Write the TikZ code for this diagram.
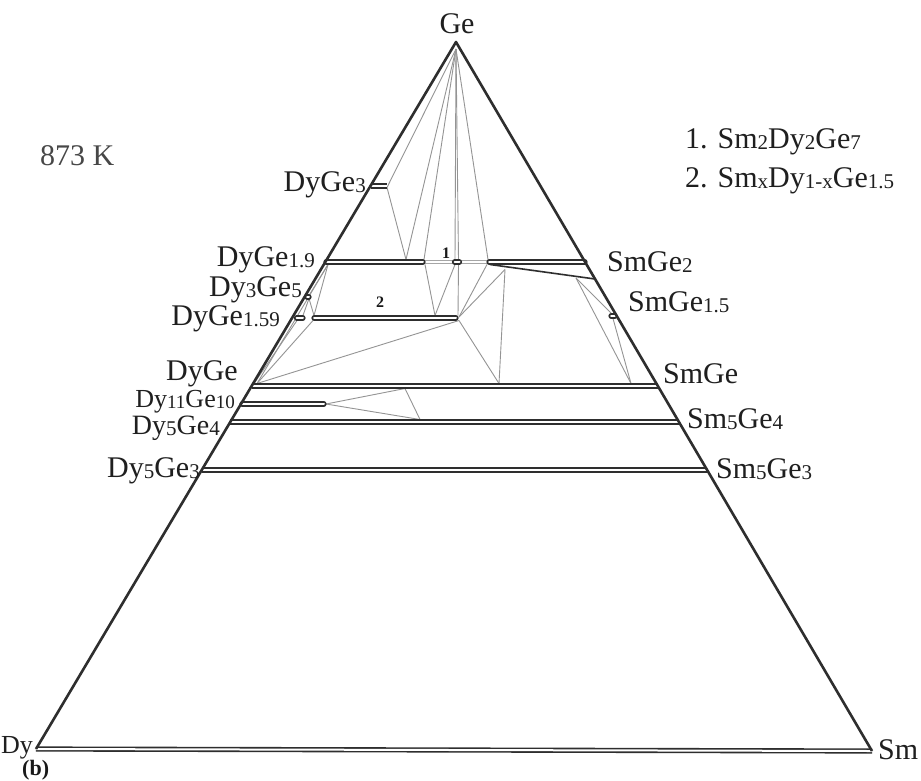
\documentclass[tikz,border=0pt]{standalone}
\usepackage{fontspec}
\setmainfont{Liberation Serif}
\newcommand\sbs[1]{\raisebox{-1pt}{\fontsize{21}{21}\selectfont #1}}
\newcommand\sbss[1]{\raisebox{-1pt}{\fontsize{19}{19}\selectfont #1}}
\begin{document}
\begin{tikzpicture}[x=1pt,y=-1pt,
  edge/.style={draw=black!82,line width=2.6pt,line join=round},
  phase/.style={draw=black!82,line width=1.6pt,double=white,double distance=2pt},
  phaser/.style={phase,line cap=round},
  thinphase/.style={draw=black!35,line width=0.8pt,double=white,double distance=2.6pt},
  slant/.style={draw=black!82,line width=1.6pt},
  tie/.style={draw=black!42,line width=0.9pt},
  lbl/.style={font=\fontsize{30}{30}\selectfont,text=black!88,inner sep=0pt},
  slbl/.style={lbl,font=\fontsize{28}{28}\selectfont},
  xslbl/.style={lbl,font=\fontsize{26}{26}\selectfont},
  num/.style={font=\fontsize{16}{16}\selectfont\bfseries,text=black!90,inner sep=0pt}]
\useasboundingbox (0,0) rectangle (921,780);
\fill[white] (0,0) rectangle (921,780);
% corners
\coordinate (Ge) at (456,42);
\coordinate (Dy) at (36,749);
\coordinate (Sm) at (872,751);
\coordinate (G0) at (456,49);
% phase points
\coordinate (d3a) at (371,186);   \coordinate (d3b) at (387,186);
\coordinate (d19a) at (326,262); \coordinate (d19b) at (423,262);
\coordinate (c1a) at (454.5,262); \coordinate (c1b) at (459.5,262);
\coordinate (s2a) at (489,262);   \coordinate (s2b) at (585,262);
\coordinate (sla) at (490,264.5); \coordinate (slb) at (595,279);
\coordinate (d35a) at (307,297);  \coordinate (d35b) at (309,297);
\coordinate (d159a) at (296.5,318); \coordinate (d159b) at (303,318);
\coordinate (c2a) at (314,318);   \coordinate (c2b) at (456,318);
\coordinate (s15a) at (611,316);  \coordinate (s15b) at (615,316);
\coordinate (d1a) at (251.7,386); \coordinate (d1b) at (657.8,386);
\coordinate (d1110a) at (242,404); \coordinate (d1110b) at (324,404);
\coordinate (d54a) at (230.3,422); \coordinate (d54b) at (679,422);
\coordinate (d53a) at (201.8,470); \coordinate (d53b) at (707,470);
% tie line points
\coordinate (v1) at (406,259.5);
\coordinate (e19) at (424,259.5);
\coordinate (k1l) at (455,259.5); \coordinate (k1r) at (458.5,259.5);
\coordinate (e2) at (488,259.5);
\coordinate (d3t) at (387,187.5);
\coordinate (u19) at (425,264.5);
\coordinate (u1l) at (455,264.5); \coordinate (u1r) at (458.5,264.5);
\coordinate (u2) at (487,264.5);
\coordinate (v2) at (435,315.5);
\coordinate (c2e) at (458,315.5);
\coordinate (c2f) at (459,317);
\coordinate (c2g) at (459,320.5);
\coordinate (p505) at (505,269.5);
\coordinate (p575) at (576,278);
\coordinate (s15t) at (612,314);
\coordinate (s15d) at (613,318.5);
\coordinate (g1) at (499,383.5);
\coordinate (g2) at (631,383.5);
\coordinate (gl) at (257,383.5);
\coordinate (gl2) at (254,383.5);
\coordinate (d19s) at (328,264.5);
\coordinate (d35t) at (309,295.5);
\coordinate (d35d) at (309,298.5);
\coordinate (c2s) at (314,315.5);
\coordinate (c2u) at (313,320.5);
\coordinate (d159t) at (303,315.5);
\coordinate (d159u) at (297,320.5);
\coordinate (q1) at (405,388.5);
\coordinate (q2) at (420,419.5);
\coordinate (d1110e) at (326,404);
% tie lines
\draw[tie] (G0) -- (d3t);
\draw[tie] (G0) -- (v1);
\draw[tie] (d3t) -- (v1);
\draw[tie] (G0) -- (e19);
\draw[tie] (G0) -- (k1l);
\draw[tie] (G0) -- (k1r);
\draw[tie] (G0) -- (e2);
\draw[tie] (u19) -- (v2);
\draw[tie] (u1l) -- (v2);
\draw[tie] (u1r) -- (c2e);
\draw[tie] (u2) -- (c2f);
\draw[tie] (p505) -- (c2f);
\draw[tie] (p505) -- (g1);
\draw[tie] (c2g) -- (g1);
\draw[tie] (c2g) -- (gl);
\draw[tie] (p575) -- (s15t);
\draw[tie] (p575) -- (g2);
\draw[tie] (s15d) -- (g2);
\draw[tie] (d19s) -- (d35t);
\draw[tie] (d19s) -- (c2s);
\draw[tie] (d19s) -- (gl);
\draw[tie] (d35d) -- (d159t);
\draw[tie] (d35d) -- (c2s);
\draw[tie] (d159u) -- (gl2);
\draw[tie] (c2u) -- (gl);
\draw[tie] (d1110e) -- (q1);
\draw[tie] (d1110e) -- (q2);
\draw[tie] (q1) -- (q2);
% phases
\draw[thinphase] (d19b) -- (s2a);
\draw[phase] (d3a) -- (d3b);
\draw[phaser] (d19a) -- (d19b);
\draw[phaser] (c1a) -- (c1b);
\draw[phaser] (s2a) -- (s2b);
\draw[slant] (sla) -- (slb);
\draw[phaser] (d35a) -- (d35b);
\draw[phaser] (d159a) -- (d159b);
\draw[phaser] (c2a) -- (c2b);
\draw[phaser] (s15a) -- (s15b);
\draw[phase] (d1a) -- (d1b);
\draw[phaser] (d1110a) -- (d1110b);
\draw[phase] (d54a) -- (d54b);
\draw[phase] (d53a) -- (d53b);
\draw[phase] (Dy) -- (Sm);
% triangle edges
\draw[edge] (Dy) -- (Ge) -- (Sm);
% labels
\node[lbl,anchor=base] (tGe) at (457,33) {Ge};
\node[lbl,anchor=base west,text=black!72] (tT) at (40,165) {873 K};
\node[lbl,anchor=base east] (tDyGe3) at (366,191) {DyGe\sbs{3}};
\node[lbl,anchor=base east] (tDyGe19) at (315,266) {DyGe\sbs{1.9}};
\node[lbl,anchor=base east] (tDy3Ge5) at (302,296) {Dy\sbs{3}Ge\sbs{5}};
\node[lbl,anchor=base east] (tDyGe159) at (280,325) {DyGe\sbs{1.59}};
\node[lbl,anchor=base east] (tDyGe) at (238,380) {DyGe};
\node[xslbl,anchor=base east] (tDy11) at (235,407) {Dy\sbss{11}Ge\sbss{10}};
\node[slbl,anchor=base east] (tDy54) at (220,434) {Dy\sbs{5}Ge\sbs{4}};
\node[lbl,anchor=base east] (tDy53) at (200,477) {Dy\sbs{5}Ge\sbs{3}};
\node[xslbl,anchor=base west] (tDy) at (1,753) {Dy};
\node[lbl,anchor=base west] (tSmGe2) at (607,271) {SmGe\sbs{2}};
\node[lbl,anchor=base west] (tSmGe15) at (628,311) {SmGe\sbs{1.5}};
\node[lbl,anchor=base west] (tSmGe) at (663,383) {SmGe};
\node[lbl,anchor=base west] (tSm54) at (687,428) {Sm\sbs{5}Ge\sbs{4}};
\node[lbl,anchor=base west] (tSm53) at (716,478) {Sm\sbs{5}Ge\sbs{3}};
\node[lbl,anchor=base west] (tSm) at (878,759) {Sm};
\node[lbl,anchor=base west] (leg1) at (685,148) {1. Sm\sbs{2}Dy\sbs{2}Ge\sbs{7}};
\node[lbl,anchor=base west] (leg2) at (685,187) {2. Sm\sbs{x}Dy\sbs{1-x}Ge\sbs{1.5}};
\node[num] (n1) at (446,253) {1};
\node[num] (n2) at (380,302) {2};
\node[inner sep=0pt,anchor=base west,font=\fontsize{22}{22}\selectfont\bfseries,text=black!90] (tb) at (22,775) {(b)};
\end{tikzpicture}
\end{document}
